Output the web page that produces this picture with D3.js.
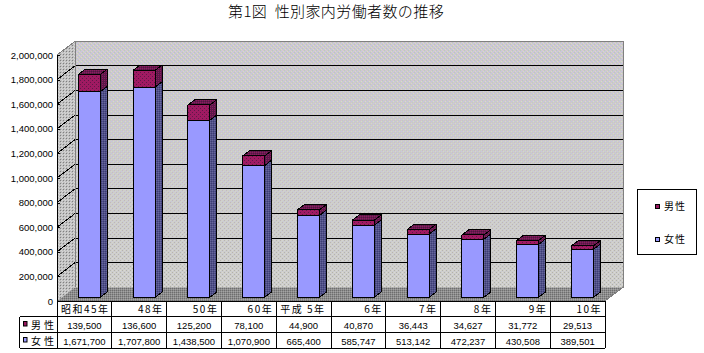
<!DOCTYPE html>
<html>
<head>
<meta charset="utf-8">
<script src="https://cdn.jsdelivr.net/npm/d3@7"></script>
<style>
body { margin: 0; background: #fff; }
svg { display: block; }
text { font-family: "Noto Sans CJK JP", "DejaVu Sans", sans-serif; fill: #000; }
.title { font-size: 15px; font-weight: 300; letter-spacing: 0.4px; }
.cell { font-size: 9.5px; font-family: "Liberation Sans", sans-serif; }
.cat { font-size: 10px; }
.axis text { font-size: 9.5px; font-family: "Liberation Sans", sans-serif; }
.axis path { display: none; }
</style>
</head>
<body>
<div id="chart"></div>
<script>
const categories = ['昭和45年', '48年', '50年', '60年', '平成 5年', '6年', '7年', '8年', '9年', '10年'];
const male = [139500, 136600, 125200, 78100, 44900, 40870, 36443, 34627, 31772, 29513];
const female = [1671700, 1707800, 1438500, 1070900, 665400, 585747, 513142, 472237, 430508, 389501];
const yTicks = [0, 200000, 400000, 600000, 800000, 1000000, 1200000, 1400000, 1600000, 1800000, 2000000];

const rows = categories.map((c, i) => ({ cat: c, female: female[i], male: male[i] }));
const stacked = d3.stack().keys(['female', 'male'])(rows);

const svg = d3.select('#chart').append('svg').attr('width', 704).attr('height', 353);
const defs = svg.append('defs');

// dither patterns, the original is a 256 colour gif
function dither(id, base, size, dots) {
    const p = defs.append('pattern').attr('id', id).attr('width', size).attr('height', size)
        .attr('patternUnits', 'userSpaceOnUse');
    p.append('rect').attr('width', size).attr('height', size).attr('fill', base).attr('shape-rendering', 'crispEdges');
    dots.forEach(d => p.append('rect').attr('x', d[0]).attr('y', d[1]).attr('width', 1).attr('height', 1).attr('fill', d[2]).attr('shape-rendering', 'crispEdges'));
}
dither('wallTop', '#cacacc', 4, [[0, 0, '#dcc4dc'], [2, 0, '#bcc4bc'], [1, 1, '#dcdcc4'], [3, 1, '#c0c0e8'], [0, 2, '#bcc8bc'], [2, 2, '#dcc4d8'], [1, 3, '#c4c4e8'], [3, 3, '#dcd8c4']]);
dither('wallLow', '#cecece', 4, [[0, 0, '#b0b0a4'], [2, 2, '#b0b0a4'], [2, 0, '#dedcd0'], [0, 2, '#dedcd0']]);
dither('side', '#c0c0c0', 3, [[0, 0, '#808080'], [1, 1, '#d8d8d8'], [2, 2, '#d8d8d8']]);
dither('floor', '#8c8c8c', 2, [[0, 0, '#6e6e6e'], [1, 1, '#a4a4a4']]);
dither('maleFace', '#a01a62', 4, [[0, 0, '#601848'], [2, 2, '#601848']]);
dither('maleTop', '#6a1a50', 2, [[0, 0, '#8c1c60'], [1, 1, '#501840']]);
dither('maleSide', '#5a1848', 2, [[0, 0, '#8c1c60']]);
dither('femaleSide', '#505088', 2, [[0, 0, '#66669c'], [1, 1, '#3c3c74']]);

const fade = defs.append('linearGradient').attr('id', 'fade').attr('x1', 0).attr('y1', 0).attr('x2', 0).attr('y2', 1);
fade.append('stop').attr('offset', 0).attr('stop-color', '#fff');
fade.append('stop').attr('offset', 0.5).attr('stop-color', '#999');
fade.append('stop').attr('offset', 1).attr('stop-color', '#000');
defs.append('mask').attr('id', 'fadeMask').attr('maskContentUnits', 'objectBoundingBox')
    .append('rect').attr('width', 1).attr('height', 1).attr('fill', 'url(#fade)');

const plotLeft = 57, plotRight = 605, plotBottom = 301, plotTop = 55;
const depthX = 18, depthY = 13.7;

const x = d3.scaleBand().domain(categories).range([plotLeft, plotRight]);
const y = d3.scaleLinear().domain([0, 2000000]).range([plotBottom, plotTop]);

const toPath = pts => 'M' + pts.map(p => p.join(',')).join('L') + 'Z';
// t = how far into the chart depth, 0 front, 1 back wall
const at = (px, py, t) => [px + depthX * t, py - depthY * t];

// walls
const wall = toPath([at(plotLeft, plotTop, 1), at(plotRight, plotTop, 1), at(plotRight, plotBottom, 1), at(plotLeft, plotBottom, 1)]);
svg.append('path').attr('d', wall).attr('fill', 'url(#wallLow)');
svg.append('path').attr('d', wall).attr('fill', 'url(#wallTop)').attr('mask', 'url(#fadeMask)');
svg.append('path').attr('d', toPath([[plotLeft, plotTop], at(plotLeft, plotTop, 1), at(plotLeft, plotBottom, 1), [plotLeft, plotBottom]]))
    .attr('fill', 'url(#side)');
svg.append('path').attr('d', toPath([[plotLeft, plotBottom], [plotRight, plotBottom], at(plotRight, plotBottom, 1), at(plotLeft, plotBottom, 1)]))
    .attr('fill', 'url(#floor)');

// gridlines: along the left wall and across the back wall
const grid = svg.append('g').attr('stroke', '#000').attr('fill', 'none').attr('stroke-width', 1).attr('shape-rendering', 'crispEdges');
grid.selectAll('.g').data(yTicks.slice(1, -1)).enter().append('path')
    .attr('d', d => {
        const a = at(plotRight, y(d), 1), b = at(plotLeft, y(d), 1);
        return `M${a[0]},${a[1]}L${b[0]},${b[1]}L${plotLeft},${y(d)}`;
    });
svg.append('path')
    .attr('d', `M${plotLeft},${plotTop}L${at(plotLeft, plotTop, 1)}L${at(plotRight, plotTop, 1)}L${at(plotRight, plotBottom, 1)}L${plotRight},${plotBottom}`)
    .attr('fill', 'none').attr('stroke', '#808080').attr('shape-rendering', 'crispEdges');
svg.append('line').attr('x1', at(plotLeft, plotTop, 1)[0]).attr('x2', at(plotLeft, plotTop, 1)[0])
    .attr('y1', at(plotLeft, plotTop, 1)[1]).attr('y2', at(plotLeft, plotBottom, 1)[1]).attr('stroke', '#808080').attr('shape-rendering', 'crispEdges');

// bars
const barWidth = 22, t0 = 0.27, t1 = 0.66;
const seriesStyle = {
    female: { face: '#9999ff', side: 'url(#femaleSide)' },
    male: { face: 'url(#maleFace)', side: 'url(#maleSide)' }
};
stacked.forEach(s => {
    const style = seriesStyle[s.key];
    const g = svg.append('g').attr('stroke', '#000').attr('stroke-width', 1).attr('stroke-linejoin', 'round').attr('shape-rendering', 'crispEdges');
    s.forEach(d => {
        const cat = d.data.cat;
        const cx = x(cat) + x.bandwidth() / 2;
        const xl = cx - barWidth / 2 + depthX * t0;
        const xr = xl + barWidth;
        const yb = y(d[0]) - depthY * t0, yt = y(d[1]) - depthY * t0;
        const dx = depthX * (t1 - t0), dy = depthY * (t1 - t0);
        g.append('path').attr('d', toPath([[xr, yb], [xr + dx, yb - dy], [xr + dx, yt - dy], [xr, yt]])).attr('fill', style.side);
        if (s.key === 'male') {
            g.append('path').attr('d', toPath([[xl, yt], [xr, yt], [xr + dx, yt - dy], [xl + dx, yt - dy]])).attr('fill', 'url(#maleTop)');
        }
        g.append('rect').attr('x', xl).attr('y', yt).attr('width', barWidth).attr('height', yb - yt).attr('fill', style.face);
    });
});

// y axis
svg.append('g').attr('class', 'axis')
    .attr('transform', `translate(${plotLeft},0)`)
    .call(d3.axisLeft(y).tickValues(yTicks).tickSize(0).tickPadding(4).tickFormat(d3.format(',')))
    .call(g => g.selectAll('.tick line').attr('x2', 3).attr('stroke', '#000').attr('shape-rendering', 'crispEdges'));
svg.append('line').attr('x1', plotLeft).attr('x2', plotLeft).attr('y1', plotTop).attr('y2', plotBottom).attr('stroke', '#000').attr('shape-rendering', 'crispEdges');

// data table under the chart
const rowY = [301, 316.5, 332.5, 348];
const table = svg.append('g').attr('stroke', '#000').attr('fill', 'none').attr('shape-rendering', 'crispEdges');
table.append('line').attr('x1', plotLeft).attr('x2', plotRight).attr('y1', rowY[0]).attr('y2', rowY[0]);
rowY.slice(1).forEach(v => table.append('line').attr('x1', 19.5).attr('x2', plotRight).attr('y1', v).attr('y2', v));
table.append('line').attr('x1', 19.5).attr('x2', 19.5).attr('y1', rowY[1]).attr('y2', rowY[3]);
x.domain().forEach(c => table.append('line').attr('x1', x(c)).attr('x2', x(c)).attr('y1', rowY[0]).attr('y2', rowY[3]));
table.append('line').attr('x1', plotRight).attr('x2', plotRight).attr('y1', rowY[0]).attr('y2', rowY[3]);

svg.selectAll('.cat').data(categories).enter().append('text')
    .attr('class', 'cat')
    .attr('letter-spacing', 1.5)
    .attr('x', d => d === categories[0] || d === categories[4] ? x(d) + 4 : x(d) + x.bandwidth() - 3)
    .attr('y', rowY[0] + 12)
    .attr('text-anchor', d => d === categories[0] || d === categories[4] ? 'start' : 'end')
    .text(d => d);

const fmt = d3.format(',');
[[male, rowY[1]], [female, rowY[2]]].forEach(([vals, ry]) => {
    svg.selectAll(null).data(vals).enter().append('text')
        .attr('class', 'cell')
        .attr('x', (d, i) => x(categories[i]) + x.bandwidth() / 2)
        .attr('y', ry + 12)
        .attr('text-anchor', 'middle')
        .text(d => fmt(d));
});

// row headers with legend keys
const legendItems = [
    { name: '男性', color: '#99185f' },
    { name: '女性', color: '#9999ff' }
];
legendItems.forEach((d, i) => {
    svg.append('rect').attr('x', 23.5).attr('y', rowY[i + 1] + 5).attr('width', 3.5).attr('height', 4.5).attr('fill', d.color).attr('stroke', '#000');
    svg.append('text').attr('class', 'cat').attr('x', 31).attr('y', rowY[i + 1] + 12).attr('letter-spacing', 3).text(d.name);
});

// legend box
svg.append('rect').attr('x', 637.5).attr('y', 189.5).attr('width', 59).attr('height', 65).attr('fill', '#fff').attr('stroke', '#000');
legendItems.forEach((d, i) => {
    const ly = 206 + i * 33;
    svg.append('rect').attr('x', 655.5).attr('y', ly - 1.5).attr('width', 4).attr('height', 4).attr('fill', d.color).attr('stroke', '#000');
    svg.append('text').attr('class', 'cat').attr('x', 664).attr('y', ly + 4).attr('letter-spacing', 1).text(d.name);
});

svg.append('text').attr('class', 'title').attr('x', 228).attr('y', 17).attr('xml:space', 'preserve')
    .text('第1図  性別家内労働者数の推移');
</script>
</body>
</html>
